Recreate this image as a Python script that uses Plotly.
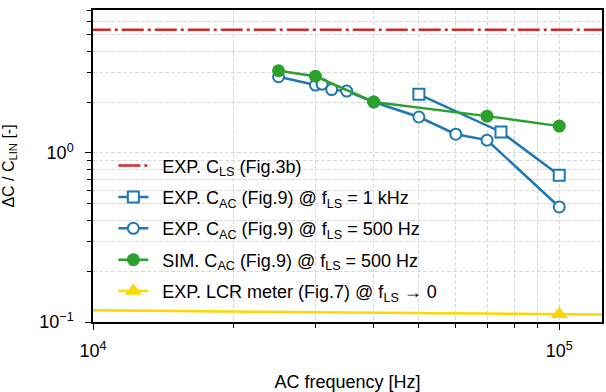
import plotly.graph_objects as go

# ---- data ----
cls_x = [1e3, 1e6]
cls_y = [5.35, 5.35]

cac1k_x = [50000, 75000, 100000]
cac1k_y = [2.22, 1.33, 0.738]

cac500_x = [25000, 30000, 31000, 32500, 35000, 40000, 50000, 60000, 70000, 100000]
cac500_y = [2.82, 2.52, 2.55, 2.37, 2.32, 2.0, 1.63, 1.29, 1.19, 0.479]

sim_x = [25000, 30000, 40000, 70000, 100000]
sim_y = [3.06, 2.84, 2.0, 1.65, 1.44]

lcr_x = [1e3, 1e5, 1e6]
lcr_y = [0.1236, 0.111, 0.1055]

x_major = [1e4, 1e5]
x_major_text = ["10<sup>4</sup>", "10<sup>5</sup>"]
x_minor = [2e4, 3e4, 4e4, 5e4, 6e4, 7e4, 8e4, 9e4]
y_major = [0.1, 1.0]
y_major_text = ["10<sup>\u22121</sup>", "10<sup>0</sup>"]
y_minor = [0.2, 0.3, 0.4, 0.5, 0.6, 0.7, 0.8, 0.9, 2, 3, 4, 5, 6, 7]

BLUE = "#1f77b4"
GREEN = "#2ca02c"
RED = "#d62728"
GOLD = "#ffd700"
FONT = "Liberation Sans, Arial, sans-serif"
SP = "\u2002"

fig = go.Figure()
fig.add_trace(go.Scatter(
    x=cls_x, y=cls_y, mode="lines", name=SP + "EXP. C<sub>LS</sub> (Fig.3b)",
    line=dict(color=RED, width=2.5, dash="22px,4px,3px,4px"), legendgroup="a"))
fig.add_trace(go.Scatter(
    x=cac1k_x, y=cac1k_y, mode="lines+markers",
    name=SP + "EXP. C<sub>AC</sub> (Fig.9) @ f<sub>LS</sub> = 1 kHz",
    line=dict(color=BLUE, width=2.5),
    marker=dict(symbol="square", size=11, color="white", line=dict(color=BLUE, width=2)),
    legendgroup="b"))
fig.add_trace(go.Scatter(
    x=cac500_x, y=cac500_y, mode="lines+markers",
    name=SP + "EXP. C<sub>AC</sub> (Fig.9) @ f<sub>LS</sub> = 500 Hz",
    line=dict(color=BLUE, width=2.5),
    marker=dict(symbol="circle", size=11, color="white", line=dict(color=BLUE, width=2)),
    legendgroup="c"))
fig.add_trace(go.Scatter(
    x=sim_x, y=sim_y, mode="lines+markers",
    name=SP + "SIM. C<sub>AC</sub> (Fig.9) @ f<sub>LS</sub> = 500 Hz",
    line=dict(color=GREEN, width=2.5),
    marker=dict(symbol="circle", size=13, color=GREEN),
    legendgroup="d"))
fig.add_trace(go.Scatter(
    x=lcr_x, y=lcr_y, mode="lines+markers",
    name=SP + "EXP. LCR meter (Fig.7) @ f<sub>LS</sub> \u2192 0",
    line=dict(color=GOLD, width=2.5),
    marker=dict(symbol="triangle-up", size=15, color=GOLD),
    legendgroup="e"))

grid = dict(showgrid=True, gridcolor="#d9d9d9", gridwidth=1, griddash="4px,2px")

fig.update_layout(
    width=606, height=392,
    margin=dict(l=93, r=2, t=10, b=70),
    paper_bgcolor="white", plot_bgcolor="white",
    font=dict(family=FONT, size=18, color="black"),
    showlegend=True,
    legend=dict(x=0.04, y=0.56, xanchor="left", yanchor="top",
                bgcolor="rgba(0,0,0,0)", font=dict(size=18),
                tracegroupgap=5, itemwidth=30),
    xaxis=dict(
        type="log", range=[4, 5.0917],
        tickvals=x_major, ticktext=x_major_text,
        ticks="outside", ticklen=6, tickwidth=1, tickcolor="black",
        showline=True, linecolor="black", linewidth=1.5, mirror=True,
        tickfont=dict(size=18), ticklabelstandoff=6,
        title=dict(text="AC frequency [Hz]", font=dict(size=18), standoff=16),
        minor=dict(tickvals=x_minor, ticks="outside", ticklen=4, tickcolor="black",
                   **grid),
        zeroline=False, **grid),
    yaxis=dict(
        type="log", range=[-1, 0.8451],
        tickvals=y_major, ticktext=y_major_text,
        ticks="outside", ticklen=6, tickwidth=1, tickcolor="black",
        showline=True, linecolor="black", linewidth=1.5, mirror=True,
        tickfont=dict(size=18), ticklabelstandoff=8,
        title=dict(text="\u0394C / C<sub>LIN</sub> [-]", font=dict(size=16), standoff=24),
        minor=dict(tickvals=y_minor, ticks="outside", ticklen=4, tickcolor="black",
                   **grid),
        zeroline=False, **grid),
)

fig.write_html("out.html")
